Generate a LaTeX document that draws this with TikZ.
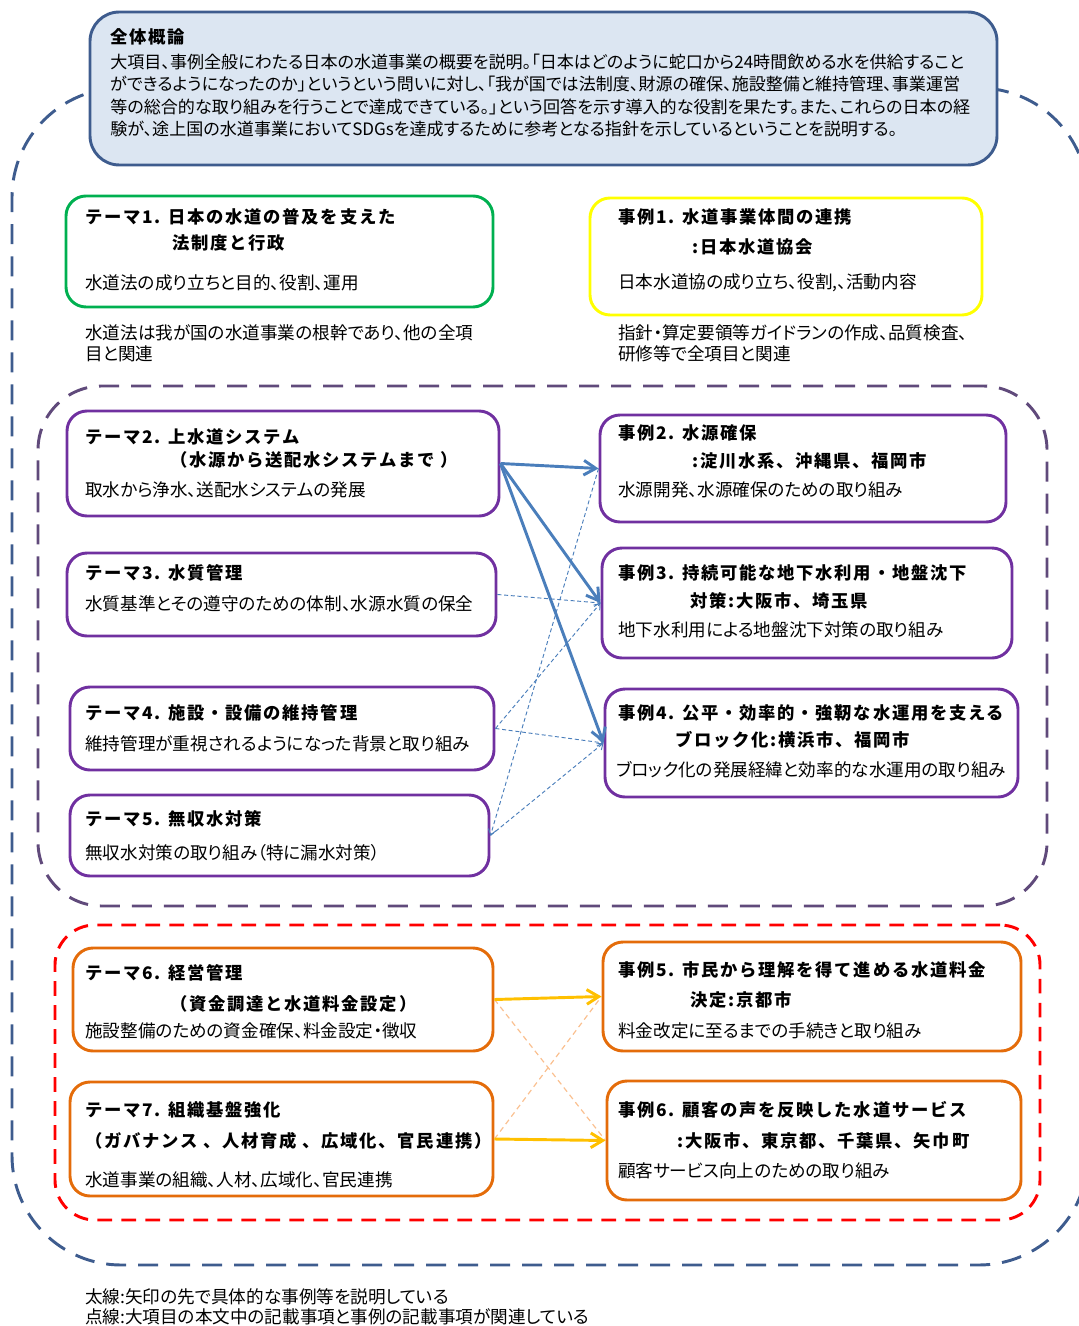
\documentclass[tikz,border=0pt]{standalone}
\usepackage{fontspec}
\setmainfont{Noto Sans CJK JP}[RawFeature=+palt]
\newfontfamily\ttlfont{Noto Sans CJK JP}[LetterSpace=10]
\usetikzlibrary{arrows.meta,fit}

\definecolor{navy}{RGB}{62,92,142}
\definecolor{topfill}{RGB}{220,230,242}
\definecolor{themegreen}{RGB}{0,176,80}
\definecolor{caseyellow}{RGB}{255,255,0}
\definecolor{boxpurple}{RGB}{112,48,160}
\definecolor{regionpurple}{RGB}{96,74,123}
\definecolor{arrowblue}{RGB}{74,126,187}
\definecolor{regionred}{RGB}{255,0,0}
\definecolor{boxorange}{RGB}{228,108,10}
\definecolor{arrowamber}{RGB}{255,192,0}
\definecolor{peach}{RGB}{250,192,144}

\tikzset{
  box/.style={draw, line width=2.2pt, rounded corners=15pt, inner sep=0pt},
  region/.style={draw, line width=2.2pt, inner sep=0pt, dash pattern=on 15pt off 9pt},
  body/.style={anchor=west, inner sep=0pt, font=\fontsize{13.2}{14}\selectfont},
  ttl/.style={anchor=west, inner sep=0pt, font=\fontsize{13}{15}\ttlfont\bfseries},
  note/.style={anchor=north west, inner sep=0pt, align=left},
  bluearrow/.style={arrowblue, line width=2.2pt, -{Straight Barb[length=9pt,width=11pt]}},
  bluedash/.style={arrowblue, line width=0.7pt, dash pattern=on 3pt off 2pt, -{Straight Barb[length=4pt,width=6pt]}},
  amberarrow/.style={arrowamber, line width=2.2pt, -{Straight Barb[length=9pt,width=11pt]}},
  peachdash/.style={peach, line width=0.9pt, dash pattern=on 4pt off 3pt}
}

\begin{document}
\begin{tikzpicture}[x=0.75pt,y=-0.75pt]
    \useasboundingbox (0,0) rectangle (1078,1326);

    % Dashed regions
    \node[region, navy, rounded corners=82pt, fit={(12,88) (1088,1265)}] (whole) {};
    \node[region, regionpurple, rounded corners=48pt, fit={(38,386) (1047,906)}] (watersys) {};
    \node[region, regionred, rounded corners=30pt, dash pattern=on 11pt off 7pt, fit={(55,925) (1040,1220)}] (mgmt) {};

    % Overview box
    \node[box, navy, fill=topfill, rounded corners=22pt, fit={(90,12) (997,165)}] (top) {};
    \node[ttl] (toptitle) at (110,37) {全体概論};
    \node[note, font=\fontsize{12.8}{16.8}\selectfont] (toptext) at (110,53.5) {%
      大項目、事例全般にわたる日本の水道事業の概要を説明。「日本はどのように蛇口から24時間飲める水を供給すること\\
      ができるようになったのか」というという問いに対し、「我が国では法制度、財源の確保、施設整備と維持管理、事業運営\\
      等の総合的な取り組みを行うことで達成できている。」という回答を示す導入的な役割を果たす。また、これらの日本の経\\
      験が、途上国の水道事業においてSDGsを達成するために参考となる指針を示しているということを説明する。};

    % Theme 1 and case 1
    \node[box, draw=themegreen, fit={(66,196) (493,307)}] (t1) {};
    \node[ttl] (t1a) at (85,217) {テーマ1. 日本の水道の普及を支えた};
    \node[ttl] (t1b) at (172,243) {法制度と行政};
    \node[body] (t1c) at (85,283) {水道法の成り立ちと目的、役割、運用};
    \node[note, font=\fontsize{13.2}{15.8}\selectfont] (t1note) at (85,324)
      {水道法は我が国の水道事業の根幹であり、他の全項\\目と関連};

    \node[box, draw=caseyellow, fit={(590,198) (982,315)}] (c1) {};
    \node[ttl] (c1a) at (618,217) {事例1. 水道事業体間の連携};
    \node[ttl] (c1b) at (692,247) {:日本水道協会};
    \node[body] (c1c) at (618,283) {日本水道協の成り立ち、役割,、活動内容};
    \node[note, font=\fontsize{13.2}{15.8}\selectfont] (c1note) at (618,324)
      {指針・算定要領等ガイドランの作成、品質検査、\\研修等で全項目と関連};

    % Themes 2-5
    \node[box, draw=boxpurple, fit={(67,411) (499,516)}] (t2) {};
    \node[ttl] (t2a) at (85,437) {テーマ2. 上水道システム};
    \node[ttl] (t2b) at (170,460) {（水源から送配水システムまで ）};
    \node[body] (t2c) at (85,490) {取水から浄水、送配水システムの発展};

    \node[box, draw=boxpurple, fit={(67,553) (496,636)}] (t3) {};
    \node[ttl] (t3a) at (85,573) {テーマ3. 水質管理};
    \node[body] (t3c) at (85,604) {水質基準とその遵守のための体制、水源水質の保全};

    \node[box, draw=boxpurple, fit={(70,687) (494,770)}] (t4) {};
    \node[ttl] (t4a) at (85,713) {テーマ4. 施設・設備の維持管理};
    \node[body] (t4c) at (85,744) {維持管理が重視されるようになった背景と取り組み};

    \node[box, draw=boxpurple, fit={(70,795) (489,876)}] (t5) {};
    \node[ttl] (t5a) at (85,819) {テーマ5. 無収水対策};
    \node[body] (t5c) at (85,853) {無収水対策の取り組み（特に漏水対策）};

    % Cases 2-4
    \node[box, draw=boxpurple, fit={(600,415) (1006,522)}] (c2) {};
    \node[ttl] (c2a) at (618,433) {事例2. 水源確保};
    \node[ttl] (c2b) at (692,461) {:淀川水系、沖縄県、福岡市};
    \node[body] (c2c) at (618,490) {水源開発、水源確保のための取り組み};

    \node[box, draw=boxpurple, fit={(602,548) (1012,658)}] (c3) {};
    \node[ttl] (c3a) at (618,573) {事例3. 持続可能な地下水利用・地盤沈下};
    \node[ttl] (c3b) at (690,601) {対策:大阪市、埼玉県};
    \node[body] (c3c) at (618,630) {地下水利用による地盤沈下対策の取り組み};

    \node[box, draw=boxpurple, fit={(605,689) (1018,797)}] (c4) {};
    \node[ttl] (c4a) at (618,713) {事例4. 公平・効率的・強靭な水運用を支える};
    \node[ttl] (c4b) at (675,740) {ブロック化:横浜市、福岡市};
    \node[body] (c4c) at (616,770) {ブロック化の発展経緯と効率的な水運用の取り組み};

    % Themes 6-7 and cases 5-6
    \node[box, draw=boxorange, fit={(73,948) (493,1051)}] (t6) {};
    \node[ttl] (t6a) at (85,973) {テーマ6. 経営管理};
    \node[ttl] (t6b) at (170,1004) {（資金調達と水道料金設定）};
    \node[body] (t6c) at (85,1031) {施設整備のための資金確保、料金設定・徴収};

    \node[box, draw=boxorange, fit={(70,1082) (493,1196)}] (t7) {};
    \node[ttl] (t7a) at (85,1110) {テーマ7. 組織基盤強化};
    \node[ttl] (t7b) at (85,1141) {（ガバナンス 、人材育成 、広域化、官民連携）};
    \node[body] (t7c) at (85,1180) {水道事業の組織、人材、広域化、官民連携};

    \node[box, draw=boxorange, fit={(603,942) (1021,1051)}] (c5) {};
    \node[ttl] (c5a) at (618,970) {事例5. 市民から理解を得て進める水道料金};
    \node[ttl] (c5b) at (690,1000) {決定:京都市};
    \node[body] (c5c) at (618,1031) {料金改定に至るまでの手続きと取り組み};

    \node[box, draw=boxorange, fit={(607,1081) (1021,1200)}] (c6) {};
    \node[ttl] (c6a) at (618,1110) {事例6. 顧客の声を反映した水道サービス};
    \node[ttl] (c6b) at (677,1141) {:大阪市、東京都、千葉県、矢巾町};
    \node[body] (c6c) at (618,1171) {顧客サービス向上のための取り組み};

    % Connectors
    \draw[bluearrow] (t2.east) -- (c2.west);
    \draw[bluearrow] (t2.east) -- (c3.west);
    \draw[bluearrow] (t2.east) -- (c4.west);
    \draw[bluedash] (t3.east) -- (c3.west);
    \draw[bluedash] (t4.east) -- (c3.west);
    \draw[bluedash] (t4.east) -- (c4.west);
    \draw[bluedash] (t5.east) -- (c4.west);
    \draw[bluedash] (c2.west) -- (t5.east);

    \draw[peachdash] (t6.east) -- (c6.west);
    \draw[peachdash] (t7.east) -- (c5.west);
    \draw[amberarrow] (t6.east) -- (c5.west);
    \draw[amberarrow] (t7.east) -- (c6.west);

    % Legend
    \node[note, font=\fontsize{13.2}{15}\selectfont] (legend) at (85,1288)
      {太線:矢印の先で具体的な事例等を説明している\\点線:大項目の本文中の記載事項と事例の記載事項が関連している};
\end{tikzpicture}
\end{document}
